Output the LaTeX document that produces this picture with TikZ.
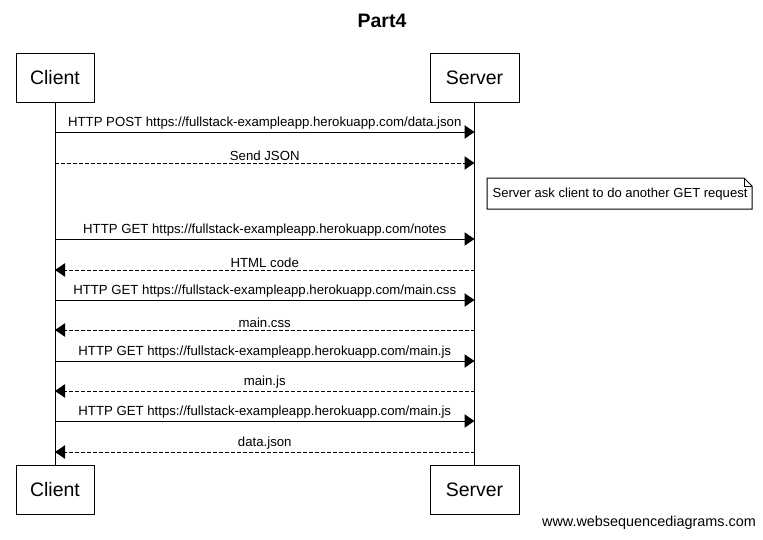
\documentclass[tikz,border=0pt]{standalone}
\usepackage{fontspec}
\setmainfont{Liberation Sans}
\usetikzlibrary{arrows.meta}
\begin{document}
\begin{tikzpicture}[x=0.75pt,y=-0.75pt,line width=0.75pt,
  actor/.style={draw,minimum width=78*0.75pt,minimum height=49*0.75pt,inner sep=0pt,font=\fontsize{14.6}{18}\selectfont},
  msg/.style={-{Triangle[length=7.5pt,width=10pt]}},
  reply/.style={msg,dash pattern=on 3pt off 1.5pt},
  lbl/.style={font=\fontsize{9.9}{12}\selectfont,inner sep=0pt,anchor=base}]
\useasboundingbox (0,0) rectangle (763,539);
\node[font=\bfseries\fontsize{14.6}{17}\selectfont] (title) at (382,21) {Part4};
\node[actor] (ct) at (55,77.5) {Client};
\node[actor,minimum width=89*0.75pt] (st) at (474.5,77.5) {Server};
\node[actor] (cb) at (55,489.5) {Client};
\node[actor,minimum width=89*0.75pt] (sb) at (474.5,489.5) {Server};
\draw (ct.south) -- (cb.north);
\draw (st.south) -- (sb.north);
% message anchors
\foreach \n/\y in {1/132,2/163,4/239,5/270,6/300,7/330,8/361,9/391,10/421,11/452}{
  \coordinate (c\n) at (55,\y);
  \coordinate (s\n) at (474.5,\y);
}
\draw[msg] (c1) -- node[lbl,above=1.4pt] {HTTP POST https://fullstack-exampleapp.herokuapp.com/data.json} (s1);
\draw[reply] (c2) -- node[lbl,above=1.4pt] {Send JSON} (s2);
\draw[msg] (c4) -- node[lbl,above=1.4pt] {HTTP GET https://fullstack-exampleapp.herokuapp.com/notes} (s4);
\draw[reply] (s5) -- node[lbl,above=1.4pt] {HTML code} (c5);
\draw[msg] (c6) -- node[lbl,above=1.4pt] {HTTP GET https://fullstack-exampleapp.herokuapp.com/main.css} (s6);
\draw[reply] (s7) -- node[lbl,above=1.4pt] {main.css} (c7);
\draw[msg] (c8) -- node[lbl,above=1.4pt] {HTTP GET https://fullstack-exampleapp.herokuapp.com/main.js} (s8);
\draw[reply] (s9) -- node[lbl,above=1.4pt] {main.js} (c9);
\draw[msg] (c10) -- node[lbl,above=1.4pt] {HTTP GET https://fullstack-exampleapp.herokuapp.com/main.js} (s10);
\draw[reply] (s11) -- node[lbl,above=1.4pt] {data.json} (c11);
% note
\node[font=\fontsize{9.8}{12}\selectfont,inner sep=0pt] (note) at (620,194.5) {Server ask client to do another GET request};
\draw (487,178) -- (744,178) -- (752,186) -- (752,209) -- (487,209) -- cycle;
\draw (744,178) -- (744,186) -- (752,186);
\node[font=\fontsize{10.8}{13}\selectfont,inner sep=0pt] (wm) at (649,523) {www.websequencediagrams.com};
\end{tikzpicture}
\end{document}
